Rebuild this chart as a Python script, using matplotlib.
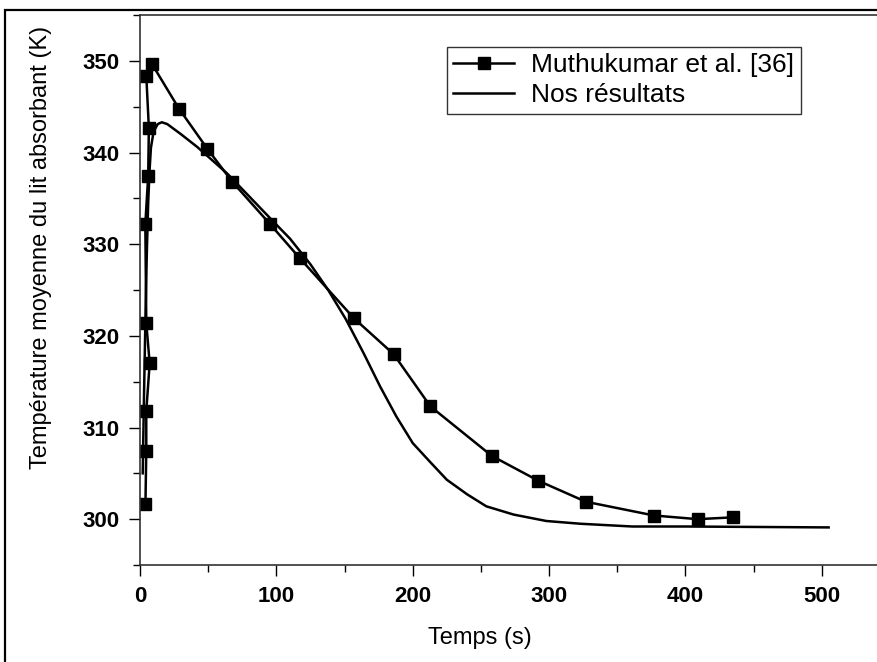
"""
Température moyenne du lit absorbant : comparaison avec Muthukumar et al. [36].
"""

import matplotlib.pyplot as plt
from matplotlib.patches import Rectangle
from matplotlib.ticker import MultipleLocator

plt.rcParams['font.family'] = ['Liberation Sans', 'DejaVu Sans']

# Muthukumar et al. [36]
t_muth = [4, 4.6, 4.6, 7.1, 4.6, 3.9, 6.0, 6.5, 4.6, 8.6, 28.5, 49.4, 67.7, 95.3,
          117, 157, 186, 213, 258, 292, 327, 377, 409, 435]
T_muth = [301.7, 307.4, 311.8, 317.0, 321.4, 332.2, 337.4, 342.7, 348.4, 349.7,
          344.8, 340.4, 336.8, 332.2, 328.5, 321.9, 318.0, 312.3, 306.9, 304.2,
          301.9, 300.4, 300.0, 300.2]

# Nos résultats
t_nos = [2, 3, 4, 5, 6, 7, 8, 10, 13, 16, 20, 30, 42, 64, 95, 110, 125, 138,
         151, 164, 176, 188, 200, 213, 225, 240, 254, 274, 298, 323, 361, 400,
         505]
T_nos = [305.0, 314.0, 322.0, 329.0, 334.5, 338.0, 340.5, 342.3, 343.1, 343.3,
         343.1, 342.0, 340.6, 337.7, 332.9, 330.6, 327.8, 325.0, 321.8, 318.1,
         314.5, 311.2, 308.3, 306.2, 304.3, 302.7, 301.4, 300.5, 299.8, 299.5,
         299.2, 299.2, 299.1]

fig = plt.figure(figsize=(8.78, 6.62), dpi=100)
ax = fig.add_axes([140 / 878, 97 / 662, 750 / 878, 550 / 662])

ax.plot(t_muth, T_muth, color='black', lw=1.8, marker='s', markersize=9,
        label='Muthukumar et al. [36]')
ax.plot(t_nos, T_nos, color='black', lw=1.8, label='Nos résultats')

ax.set_xlim(0, 550)
ax.set_ylim(295, 355)
ax.xaxis.set_minor_locator(MultipleLocator(50))
ax.yaxis.set_minor_locator(MultipleLocator(5))
ax.set_xticks([0, 100, 200, 300, 400, 500])
ax.set_yticks([300, 310, 320, 330, 340, 350])

ax.tick_params(which='major', direction='out', length=8, width=1, pad=7,
               labelsize=16)
ax.tick_params(which='minor', direction='out', length=5, width=1)
for lab in ax.get_xticklabels() + ax.get_yticklabels():
    lab.set_fontweight('bold')

for sp in ax.spines.values():
    sp.set_color('#333333')
    sp.set_linewidth(1.2)

ax.set_xlabel('Temps (s)', fontsize=17)
ax.set_ylabel('Température moyenne du lit absorbant (K)', fontsize=17)
ax.xaxis.set_label_coords(0.453, -0.113)
ax.yaxis.set_label_coords(-0.118, 0.578)

leg = ax.legend(loc='upper left', bbox_to_anchor=(0.409, 0.942), fontsize=19,
                frameon=True, fancybox=False, edgecolor='black',
                handlelength=2.3, borderpad=0.25, labelspacing=0.22,
                handletextpad=0.65, borderaxespad=0)
leg.get_frame().set_linewidth(1.0)
for h in leg.legend_handles:
    h.set_markersize(8)

# cadre extérieur de la figure
fig.add_artist(Rectangle((5 / 878, -0.1), 1.2, 1.1 - 10 / 662,
                         transform=fig.transFigure, fill=False,
                         lw=1.6, edgecolor='black'))

fig.savefig('out.png', dpi=100)
